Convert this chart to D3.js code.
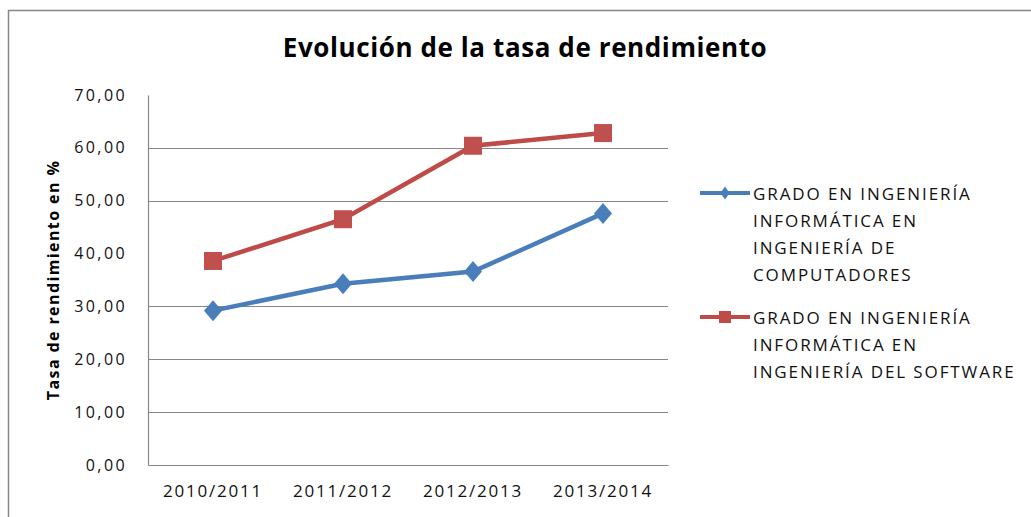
<!DOCTYPE html>
<html>
<head>
<meta charset="utf-8">
<script src="https://cdn.jsdelivr.net/npm/d3@7"></script>
<style>
  body { margin: 0; background: #fff; }
  svg { display: block; font-family: "Open Sans", sans-serif; }
</style>
</head>
<body>
<div id="chart"></div>
<script>
// datos
var cursos = ["2010/2011", "2011/2012", "2012/2013", "2013/2014"];
var computadores = [29.2, 34.3, 36.6, 47.6];
var software = [38.6, 46.5, 60.4, 62.8];
var yTicks = [0, 10, 20, 30, 40, 50, 60, 70];
var gridValues = [10, 20, 30, 50, 60]; // lineas que se ven en la imagen
var leyendaComp = ["GRADO EN INGENIERÍA", "INFORMÁTICA EN", "INGENIERÍA DE", "COMPUTADORES"];
var leyendaSoft = ["GRADO EN INGENIERÍA", "INFORMÁTICA EN", "INGENIERÍA DEL SOFTWARE"];

var width = 1031;
var height = 517;
var azul = "#4a7ebb";
var rojo = "#be4b48";
var gris = "#878787";

var svg = d3.select("#chart").append("svg")
    .attr("width", width)
    .attr("height", height);

// marco del grafico (solo arriba e izquierda visibles)
svg.append("path")
    .attr("d", "M8.5," + height + "V10.5H" + width)
    .attr("fill", "none")
    .attr("stroke", gris)
    .attr("stroke-width", 1.5);

var x = d3.scaleBand().domain(cursos).range([148, 668]);
var y = d3.scaleLinear().domain([0, 70]).range([465, 95]);

// titulo
svg.append("text")
    .text("Evolución de la tasa de rendimiento")
    .attr("x", 525)
    .attr("y", 57)
    .attr("text-anchor", "middle")
    .style("font-size", "26px")
    .style("font-weight", "bold")
    .style("letter-spacing", "0.6px");

// lineas de division
svg.append("g").selectAll("line")
    .data(gridValues)
    .enter()
    .append("line")
    .attr("x1", 148).attr("x2", 668)
    .attr("y1", function(d){ return Math.round(y(d)) + 0.5; })
    .attr("y2", function(d){ return Math.round(y(d)) + 0.5; })
    .attr("stroke", gris)
    .attr("stroke-width", 1.2);

// eje y
var yAxis = svg.append("g")
    .attr("transform", "translate(148,0)")
    .call(d3.axisLeft(y).tickValues(yTicks).tickSize(0).tickPadding(21)
        .tickFormat(function(d){ return d3.format(".2f")(d).replace(".", ","); }));
yAxis.select(".domain").attr("stroke", gris).attr("stroke-width", 1.2);
yAxis.selectAll("text")
    .style("font-size", "16px")
    .style("font-family", "Open Sans")
    .style("letter-spacing", "2.4px")
    .attr("fill", "#111");

// eje x
var xAxis = svg.append("g")
    .attr("transform", "translate(0,465)")
    .call(d3.axisBottom(x).tickSize(0).tickPadding(20));
xAxis.select(".domain").attr("stroke", gris).attr("stroke-width", 1.2);
xAxis.selectAll("text")
    .style("font-size", "17px")
    .style("font-family", "Open Sans")
    .style("letter-spacing", "1.8px")
    .attr("fill", "#111");

// titulo eje y
svg.append("text")
    .text("Tasa de rendimiento en %")
    .attr("transform", "translate(59,280) rotate(-90)")
    .attr("text-anchor", "middle")
    .style("font-size", "16px")
    .style("font-weight", "bold")
    .style("letter-spacing", "1.4px");

var line = d3.line()
    .x(function(d, i){ return x(cursos[i]) + x.bandwidth() / 2; })
    .y(function(d){ return y(d); });

function diamante(cx, cy, w, h){
    return "M" + cx + "," + (cy - h/2) + "L" + (cx + w/2) + "," + cy +
        "L" + cx + "," + (cy + h/2) + "L" + (cx - w/2) + "," + cy + "Z";
}

// serie computadores
svg.append("path")
    .datum(computadores)
    .attr("d", line)
    .attr("fill", "none")
    .attr("stroke", azul)
    .attr("stroke-width", 4.5);
svg.append("g").selectAll("path")
    .data(computadores)
    .enter()
    .append("path")
    .attr("d", function(d, i){ return diamante(x(cursos[i]) + x.bandwidth()/2, y(d), 18, 21); })
    .attr("fill", "#4a7ebb");

// serie software
svg.append("path")
    .datum(software)
    .attr("d", line)
    .attr("fill", "none")
    .attr("stroke", rojo)
    .attr("stroke-width", 4.5);
svg.append("g").selectAll("rect")
    .data(software)
    .enter()
    .append("rect")
    .attr("x", function(d, i){ return x(cursos[i]) + x.bandwidth()/2 - 9; })
    .attr("y", function(d){ return y(d) - 9; })
    .attr("width", 18)
    .attr("height", 18)
    .attr("fill", "#c0504d");

// leyenda
function leyenda(lineas, color, ly, marcador){
    var g = svg.append("g");
    g.append("line")
        .attr("x1", 700).attr("x2", 750)
        .attr("y1", ly).attr("y2", ly)
        .attr("stroke", color)
        .attr("stroke-width", 4);
    if (marcador == "diamante") {
        g.append("path").attr("d", diamante(725, ly, 9, 13)).attr("fill", color);
    } else {
        g.append("rect").attr("x", 719).attr("y", ly - 6)
            .attr("width", 12).attr("height", 12).attr("fill", color);
    }
    g.selectAll("text")
        .data(lineas)
        .enter()
        .append("text")
        .text(function(d){ return d; })
        .attr("x", 753)
        .attr("y", function(d, i){ return ly + 7 + i * 27; })
        .attr("fill", "#111")
        .style("font-size", "17px")
        .style("letter-spacing", "1.9px");
}
leyenda(leyendaComp, azul, 193, "diamante");
leyenda(leyendaSoft, rojo, 317, "cuadrado");
</script>
</body>
</html>
